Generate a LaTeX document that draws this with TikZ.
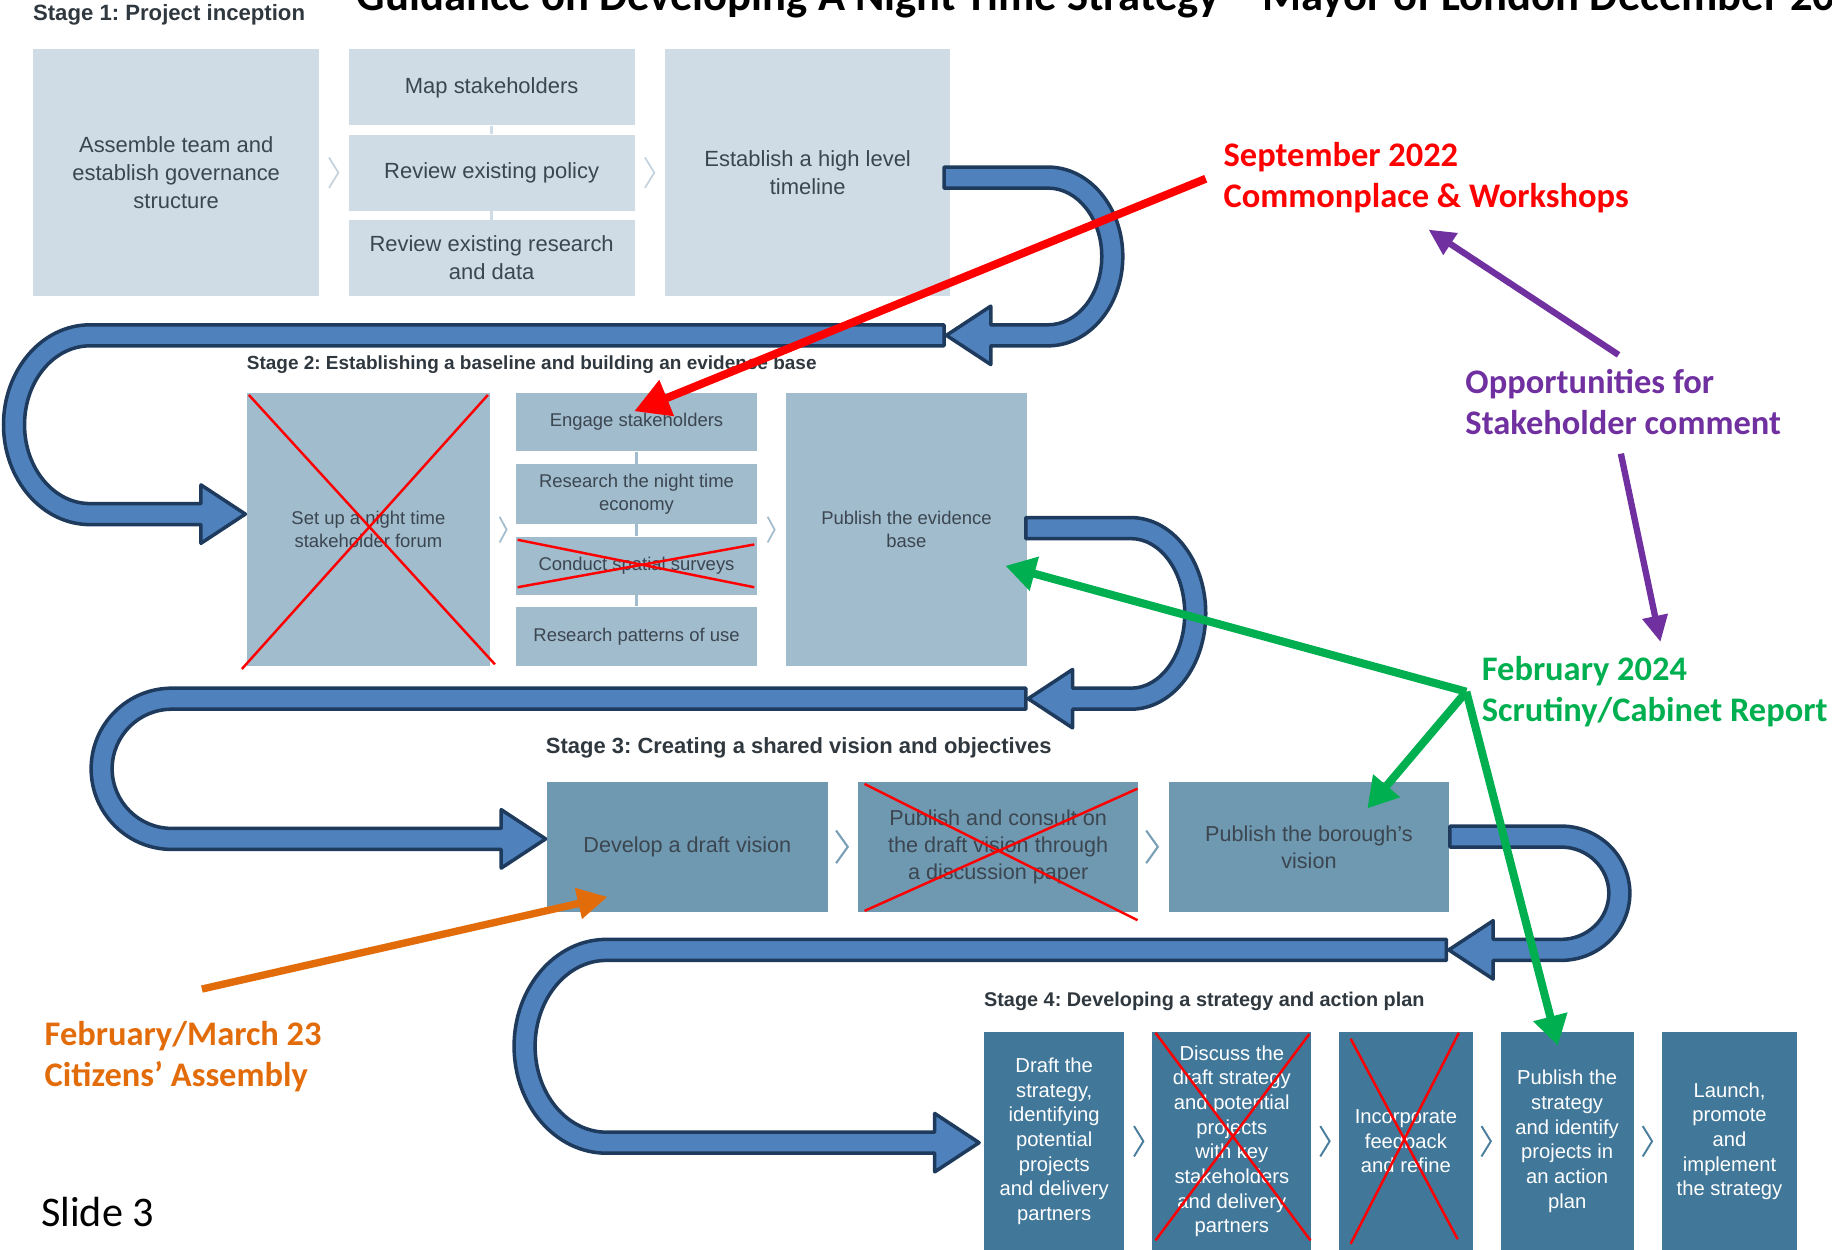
\documentclass[tikz,border=0pt]{standalone}
\usepackage{fontspec}
\setmainfont{Liberation Sans}
\newfontfamily\notefont{Carlito}
\usetikzlibrary{arrows.meta, calc}
\frenchspacing

\newlength{\pxu}
\setlength{\pxu}{0.023368cm}

\definecolor{stageone}{HTML}{CFDCE5}
\definecolor{stagetwo}{HTML}{A1BCCD}
\definecolor{stagethree}{HTML}{6F99B1}
\definecolor{stagefour}{HTML}{417799}
\definecolor{chevone}{HTML}{C4D3DE}
\definecolor{chevtwo}{HTML}{A3BDCE}
\definecolor{chevthree}{HTML}{7AA0B7}
\definecolor{chevfour}{HTML}{4A7E9E}
\definecolor{boxtext}{HTML}{3B4650}
\definecolor{headtext}{HTML}{30383F}
\definecolor{bandfill}{HTML}{4F81BD}
\definecolor{bandline}{HTML}{1E3A5C}
\definecolor{notered}{HTML}{FF0000}
\definecolor{notepurple}{HTML}{7030A0}
\definecolor{notegreen}{HTML}{00B050}
\definecolor{noteorange}{HTML}{E36C0A}

\newcommand*{\TurnRight}[6]{%
  \pgfmathsetmacro{\bandry}{(#5-#2)/2}
  \draw[band] ({#1},{#2-9}) -- ({#3},{#2-9})
    arc[start angle=-90, end angle=90, x radius=#4+9, y radius=\bandry+9]
    -- ({#6+38},{#5+9}) -- ({#6+38},{#5+25}) -- ({#6},{#5})
    -- ({#6+38},{#5-25}) -- ({#6+38},{#5-9}) -- ({#3},{#5-9})
    arc[start angle=90, end angle=-90, x radius=#4-9, y radius=\bandry-9]
    -- ({#1},{#2+9}) -- cycle;
}
\newcommand*{\TurnLeft}[6]{%
  \pgfmathsetmacro{\bandry}{(#5-#2)/2}
  \draw[band] ({#1},{#2-9}) -- ({#3},{#2-9})
    arc[start angle=-90, end angle=-270, x radius=#4+9, y radius=\bandry+9]
    -- ({#6-38},{#5+9}) -- ({#6-38},{#5+25}) -- ({#6},{#5})
    -- ({#6-38},{#5-25}) -- ({#6-38},{#5-9}) -- ({#3},{#5-9})
    arc[start angle=-270, end angle=-90, x radius=#4-9, y radius=\bandry-9]
    -- ({#1},{#2+9}) -- cycle;
}

\tikzset{
  stagehead/.style={text=headtext, anchor=west, inner sep=0pt},
  boxone/.style={fill=stageone, text=boxtext, align=center, inner sep=0pt, anchor=north west, font=\fontsize{12.5}{16}\selectfont},
  boxtwo/.style={fill=stagetwo, text=boxtext, align=center, inner sep=0pt, anchor=north west, font=\fontsize{10.5}{12.8}\selectfont},
  boxthree/.style={fill=stagethree, text=boxtext, align=center, inner sep=0pt, anchor=north west, font=\fontsize{12.3}{15.3}\selectfont},
  boxfour/.style={fill=stagefour, text=white, align=center, inner sep=0pt, anchor=north west, font=\fontsize{11.5}{14}\selectfont, minimum height=187*\pxu},
  band/.style={fill=bandfill, draw=bandline, line width=2pt, line join=round},
  cross/.style={draw=notered, line width=1.4pt},
  note/.style={font=\notefont\bfseries\fontsize{19.6}{23.3}\selectfont, align=left, inner sep=0pt, anchor=west},
  redarrow/.style={draw=notered, line width=4.6pt, -{Triangle[length=20pt,width=21pt]}},
  greenarrow/.style={draw=notegreen, line width=4.6pt, -{Triangle[length=17pt,width=19pt]}},
  purplearrow/.style={draw=notepurple, line width=3.6pt, -{Triangle[length=15pt,width=14pt]}},
  orangearrow/.style={draw=noteorange, line width=4.2pt, -{Triangle[length=17pt,width=17pt]}}
}

\begin{document}
\begin{tikzpicture}[x=\pxu, y=-\pxu]
\useasboundingbox (0,0) rectangle (1568,1069.8);

\node[font=\notefont\bfseries\fontsize{25.4}{28}\selectfont, anchor=base west, inner sep=0pt] (title) at (305,9) {Guidance on Developing A Night-Time Strategy – Mayor of London December 20};

% stage 1
\node[stagehead, font=\bfseries\fontsize{12.6}{14}\selectfont] (headone) at (28,13) {Stage 1: Project inception};
\node[boxone, minimum width=245*\pxu, minimum height=211*\pxu] (assemble) at (28,42) {Assemble team and\\establish governance\\structure};
\node[boxone, minimum width=245*\pxu, minimum height=65*\pxu] (mapping) at (298,42) {Map stakeholders};
\node[boxone, minimum width=245*\pxu, minimum height=65*\pxu] (policy) at (298,115) {Review existing policy};
\node[boxone, minimum width=245*\pxu, minimum height=65*\pxu] (research) at (298,188) {Review existing research\\and data};
\node[boxone, minimum width=244*\pxu, minimum height=211*\pxu] (timeline) at (569,42) {Establish a high level\\timeline};

% stage 2
\node[stagehead, font=\bfseries\fontsize{10.8}{12}\selectfont] (headtwo) at (211,312) {Stage 2: Establishing a baseline and building an evidence base};
\node[boxtwo, minimum width=208*\pxu, minimum height=234*\pxu] (forum) at (211,336) {Set up a night time\\stakeholder forum};
\node[boxtwo, minimum width=207*\pxu, minimum height=50*\pxu] (engage) at (441,336) {Engage stakeholders};
\node[boxtwo, minimum width=207*\pxu, minimum height=51*\pxu] (nighteco) at (441,397) {Research the night time\\economy};
\node[boxtwo, minimum width=207*\pxu, minimum height=50*\pxu] (spatial) at (441,459) {Conduct spatial surveys};
\node[boxtwo, minimum width=207*\pxu, minimum height=51*\pxu] (patterns) at (441,519) {Research patterns of use};
\node[boxtwo, minimum width=207*\pxu, minimum height=234*\pxu] (evidence) at (672,336) {Publish the evidence\\base};

% stage 3
\node[stagehead, font=\bfseries\fontsize{12.5}{14}\selectfont] (headthree) at (467,640) {Stage 3: Creating a shared vision and objectives};
\node[boxthree, minimum width=240*\pxu, minimum height=111*\pxu] (develop) at (468,669) {Develop a draft vision};
\node[boxthree, minimum width=240*\pxu, minimum height=111*\pxu] (consult) at (734,669) {Publish and consult on\\the draft vision through\\a discussion paper};
\node[boxthree, minimum width=240*\pxu, minimum height=111*\pxu] (borough) at (1000,669) {Publish the borough’s\\vision};

% stage 4
\node[stagehead, font=\bfseries\fontsize{11.3}{13}\selectfont] (headfour) at (842,857) {Stage 4: Developing a strategy and action plan};
\node[boxfour, minimum width=120*\pxu] (draft) at (842,883) {Draft the\\strategy,\\identifying\\potential\\projects\\and delivery\\partners};
\node[boxfour, minimum width=136*\pxu] (discuss) at (986,883) {Discuss the\\draft strategy\\and potential\\projects\\with key\\stakeholders\\and delivery\\partners};
\node[boxfour, minimum width=114*\pxu] (incorporate) at (1146,883) {Incorporate\\feedback\\and refine};
\node[boxfour, minimum width=114*\pxu] (publishstrat) at (1284,883) {Publish the\\strategy\\and identify\\projects in\\an action\\plan};
\node[boxfour, minimum width=116*\pxu] (launch) at (1422,883) {Launch,\\promote\\and\\implement\\the strategy};

\foreach \a/\b in {mapping/policy, policy/research}
  \draw[stageone, line width=1.5pt] (\a.south) -- (\b.north);
\foreach \a/\b in {engage/nighteco, nighteco/spatial, spatial/patterns}
  \draw[stagetwo, line width=1.5pt] (\a.south) -- (\b.north);

\foreach \a/\d in {assemble.east/12, timeline.west/-13}
  \draw[chevone, line width=1pt] ($(\a)+(\d,0)$) ++(-4,-13) -- ++(8,13) -- ++(-8,13);
\foreach \a/\d in {forum.east/11, evidence.west/-12}
  \draw[chevtwo, line width=1pt] ($(\a)+(\d,0)$) ++(-3,-11) -- ++(6,11) -- ++(-6,11);
\foreach \a/\d in {develop.east/12, borough.west/-14}
  \draw[chevthree, line width=1.2pt] ($(\a)+(\d,0)$) ++(-5,-14) -- ++(10,14) -- ++(-10,14);
\foreach \a/\d in {draft.east/12, incorporate.west/-12, publishstrat.west/-12, launch.west/-12}
  \draw[chevfour, line width=1.1pt] ($(\a)+(\d,0)$) ++(-4,-13) -- ++(8,13) -- ++(-8,13);

\draw[cross] ([shift={(-4,2)}]forum.south west) -- ([shift={(-2,2)}]forum.north east);
\draw[cross] ([shift={(2,2)}]forum.north west) -- ([shift={(4,-2)}]forum.south east);
\draw[cross] ([shift={(2,3)}]spatial.north west) -- ([shift={(-3,-7)}]spatial.south east);
\draw[cross] ([shift={(2,-7)}]spatial.south west) -- ([shift={(-3,7)}]spatial.north east);
\draw[cross] ([shift={(6,2)}]consult.north west) -- ([shift={(-1,7)}]consult.south east);
\draw[cross] ([shift={(6,-1)}]consult.south west) -- ([shift={(-1,6)}]consult.north east);
\draw[cross] ([shift={(3,1)}]discuss.north west) -- ([shift={(-1,-9)}]discuss.south east);
\draw[cross] ([shift={(3,-9)}]discuss.south west) -- ([shift={(-2,2)}]discuss.north east);
\draw[cross] ([shift={(10,6)}]incorporate.north west) -- ([shift={(-13,-10)}]incorporate.south east);
\draw[cross] ([shift={(10,-6)}]incorporate.south west) -- ([shift={(-12,1)}]incorporate.north east);

\TurnRight{808}{152}{897}{55}{287}{810}
\TurnLeft{808}{287}{77}{65}{440}{210}
\TurnRight{878}{452}{968}{55}{598}{880}
\TurnLeft{878}{598}{147}{60}{718}{467}
\TurnRight{1241}{716}{1336}{50}{813}{1240}
\TurnLeft{1238}{813}{519}{70}{978}{838}

\node[note, text=notered] (sept) at (1047,152) {September 2022\\Commonplace \& Workshops};
\node[note, text=notepurple] (opps) at (1254,344) {Opportunities for\\Stakeholder comment};
\node[note, text=notegreen] (feb24) at (1268,592) {February 2024\\Scrutiny/Cabinet Report};
\node[note, text=noteorange] (citizens) at (38,904) {February/March 23\\Citizens’ Assembly};
\node[font=\notefont\fontsize{24}{28}\selectfont, anchor=west, inner sep=0pt] (slide) at (35,1037) {Slide 3};

\coordinate (engagetip) at ($(engage.north)+(-2,16)$);
\coordinate (hub) at ($(feb24.west)+(-13,0)$);
\coordinate (evidencetip) at ($(evidence.east)+(-19,31)$);
\coordinate (boroughtip) at ($(borough.north)+(50,23)$);
\coordinate (strategytip) at ($(publishstrat.north)+(-8,12)$);
\coordinate (developtip) at ($(develop.south west)+(52,-13)$);

\draw[redarrow] ($(sept.west)+(-15,1)$) -- (engagetip);
\draw[purplearrow] ($(opps.north)+(-4,-12)$) -- ($(sept.south)+(2,14)$);
\draw[purplearrow] ($(opps.south)+(-2,16)$) -- ($(feb24.north)+(5,-12)$);
\draw[greenarrow] (hub) -- (evidencetip);
\draw[greenarrow] (hub) -- (boroughtip);
\draw[greenarrow] (hub) -- (strategytip);
\draw[orangearrow] ($(citizens.north)+(16,-27)$) -- (developtip);
\end{tikzpicture}
\end{document}
